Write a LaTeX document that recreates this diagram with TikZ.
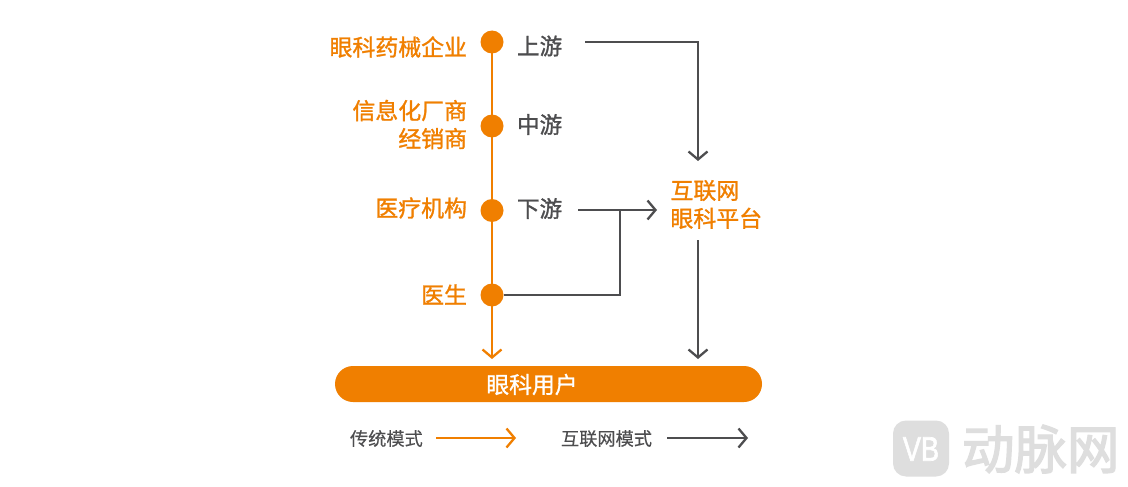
\documentclass[tikz,border=0pt]{standalone}
\usepackage{fontspec}
\setmainfont{Liberation Sans}
\newfontfamily\cjk[FakeBold=1.2]{Noto Sans CJK SC}
\newfontfamily\cjkreg[FakeBold=0.3]{Noto Sans CJK SC}
\newfontfamily\cjkwm[FakeBold=2.5]{Noto Sans CJK SC}
\newfontfamily\vbf[FakeBold=2]{Liberation Sans}
\usetikzlibrary{arrows.meta}
\definecolor{org}{HTML}{F07F00}
\definecolor{drk}{HTML}{4D4D4F}
\definecolor{wm}{HTML}{DEDEDE}
\tikzset{
 x=1pt,y=-1pt,
 every node/.style={inner sep=0pt,outer sep=0pt},
 lab/.style={font=\cjk\fontsize{22.9}{28}\selectfont,align=right,anchor=east,text=org},
 mid/.style={font=\cjk\fontsize{22.6}{28}\selectfont,anchor=west,text=drk},
 plat/.style={font=\cjk\fontsize{22.9}{28}\selectfont,align=left,text=org},
 leg/.style={font=\cjkreg\fontsize{18.2}{22}\selectfont,text=drk},
 dot/.style={circle,fill=org,minimum size=23pt},
 tip/.style={-{Straight Barb[length=8pt,width=19pt,line width=2.3pt]}},
 oline/.style={draw=org,line width=2pt,tip},
 dline/.style={draw=drk,line width=2.3pt,tip},
}
\begin{document}
\begin{tikzpicture}
\useasboundingbox (0,0) rectangle (1128,487);
\fill[white] (0,0) rectangle (1128,487);
% timeline
\node[dot] (d1) at (492,42) {};
\node[dot] (d2) at (492,126) {};
\node[dot] (d3) at (492,210.5) {};
\node[dot] (d4) at (492,295) {};
\node[draw=none,fill=org,rounded corners=18pt,minimum width=427pt,minimum height=36pt] (user) at (548.5,384) {};
\node[font=\cjk\fontsize{22.8}{26}\selectfont,text=white] (usertxt) at (532,384.5) {眼科用户};
\coordinate (utop1) at (492,359);
\coordinate (utop2) at (698,359);
\draw[oline] (d1) -- (utop1);
% left labels
\node[lab] (l1) at (467,47) {眼科药械企业};
\node[lab] (l2) at (467,124.5) {信息化厂商\\经销商};
\node[lab] (l3) at (467,208) {医疗机构};
\node[lab] (l4) at (467,294.5) {医生};
% stream labels
\node[mid] (s1) at (517,46) {上游};
\node[mid] (s2) at (517,124.5) {中游};
\node[mid] (s3) at (517,208.5) {下游};
% platform
\node[plat,anchor=west] (p) at (670.5,204.5) {互联网\\眼科平台};
\coordinate (a1s) at (585,42);
\coordinate (a1c) at (698,42);
\coordinate (a1e) at (698,161);
\coordinate (a3s) at (578,210);
\coordinate (a3e) at (657,210);
\coordinate (j) at (620,210);
\coordinate (k) at (620,295);
\coordinate (pb) at (698,240);
\draw[dline] (a1s) -- (a1c) -- (a1e);
\draw[dline] (a3s) -- (a3e);
\draw[draw=drk,line width=2.3pt] (d4) -- (k) -- (j);
\draw[dline] (pb) -- (utop2);
% legend
\node[leg,anchor=west] (t1) at (350,438.5) {传统模式};
\coordinate (la1) at (436,438);
\coordinate (la2) at (516,438);
\draw[oline] (la1) -- (la2);
\node[leg,anchor=west] (t2) at (561,438.5) {互联网模式};
\coordinate (lb1) at (667,438);
\coordinate (lb2) at (748,438);
\draw[dline] (lb1) -- (lb2);
% watermark
\node[fill=wm,rounded corners=13pt,minimum width=56pt,minimum height=56pt] (logo) at (921,448.5) {};
\node[font=\vbf\fontsize{34}{34}\selectfont,text=white,xscale=0.8] (vb) at (921,449) {VB};
\node[font=\cjkwm\fontsize{52.5}{56}\selectfont,text=wm,anchor=west] (wmt) at (962,449) {动脉网};
\end{tikzpicture}
\end{document}
